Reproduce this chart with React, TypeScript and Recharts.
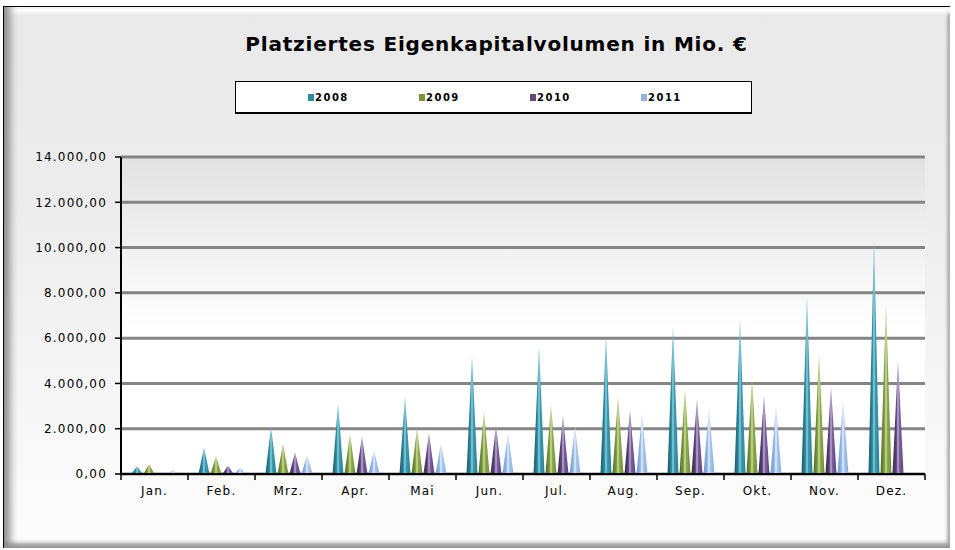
import React from 'react';
import { BarChart, Bar, XAxis, YAxis, CartesianGrid, Legend } from 'recharts';

const months = ['Jan.', 'Feb.', 'Mrz.', 'Apr.', 'Mai', 'Jun.', 'Jul.', 'Aug.', 'Sep.', 'Okt.', 'Nov.', 'Dez.'];
const v2008 = [340, 1170, 2100, 3100, 3420, 5230, 5650, 6120, 6520, 6830, 7860, 10290];
const v2009 = [440, 780, 1330, 1770, 2020, 2770, 3050, 3420, 3760, 4230, 5310, 7420];
const v2010 = [60, 370, 960, 1660, 1810, 2140, 2580, 2830, 3320, 3460, 3830, 5010];
const v2011 = [150, 290, 840, 1060, 1350, 1810, 2110, 2680, 2900, 3020, 3270, 0];
const yTicks = [0, 2000, 4000, 6000, 8000, 10000, 12000, 14000];
const seriesNames = ['2008', '2009', '2010', '2011'];
const title = 'Platziertes Eigenkapitalvolumen in Mio. €';

const data = months.map((m, i) => ({
  month: m,
  y2008: v2008[i],
  y2009: v2009[i],
  y2010: v2010[i],
  y2011: v2011[i],
}));

const series = [
  { key: 'y2008', name: seriesNames[0], legend: '#2f8aa0', stops: ['#1b5868', '#2d879c', '#8fd4e4', '#3c9bb1', '#2a7d90'] },
  { key: 'y2009', name: seriesNames[1], legend: '#77933c', stops: ['#4f6a22', '#7c9a3e', '#cfe2a2', '#8fab4f', '#6f8b35'] },
  { key: 'y2010', name: seriesNames[2], legend: '#5f497a', stops: ['#34254c', '#5c4678', '#c4b2da', '#7a62a0', '#57427a'] },
  { key: 'y2011', name: seriesNames[3], legend: '#95b3d7', stops: ['#6d97cf', '#93b6e2', '#e8f2fc', '#a8c6ec', '#86aade'] },
];

const fmt = (v: number) => {
  const s = Math.round(v).toString();
  const withSep = s.replace(/\B(?=(\d{3})+(?!\d))/g, '.');
  return withSep + ',00';
};

const Spike = (props: any) => {
  const { x, y, width, height, grad } = props;
  if (!height || height <= 0) return null;
  const inset = 0.5;
  const pts = `${x + inset},${y + height} ${x + width / 2},${y} ${x + width - inset},${y + height}`;
  return <polygon points={pts} fill={`url(#${grad})`} />;
};

const XTick = (props: any) => {
  const { x, y, payload } = props;
  const off = payload && typeof payload.offset === 'number' ? payload.offset : 33.5;
  const axisY = y - 12;
  const isLast = payload && payload.index === months.length - 1;
  return (
    <g>
      <line x1={x - off} x2={x - off} y1={axisY} y2={axisY + 6} stroke="#000" strokeWidth={1.5} />
      {isLast && <line x1={x + off} x2={x + off} y1={axisY} y2={axisY + 6} stroke="#000" strokeWidth={1.5} />}
      <text x={x} y={axisY + 21} textAnchor="middle" fontFamily="DejaVu Sans" fontSize={12} letterSpacing={1.2} fill="#000">
        {payload.value}
      </text>
    </g>
  );
};

const LegendContent = (props: any) => {
  const payload = props.payload || [];
  return (
    <div
      style={{
        width: 517,
        height: 33,
        boxSizing: 'border-box',
        background: '#fff',
        borderTop: '1px solid #000',
        borderLeft: '1px solid #000',
        borderRight: '1.5px solid #000',
        borderBottom: '2px solid #000',
        position: 'relative',
      }}
    >
      {payload.map((p: any, i: number) => (
        <div
          key={i}
          style={{
            position: 'absolute',
            left: 72 + i * 111,
            top: 10,
            display: 'flex',
            alignItems: 'center',
            fontFamily: 'DejaVu Sans',
            fontWeight: 'bold',
            fontSize: 10,
            letterSpacing: 1.5,
            color: '#000',
          }}
        >
          <span style={{ display: 'inline-block', width: 6, height: 7, background: p.color, marginRight: 1 }} />
          <span>{p.value}</span>
        </div>
      ))}
    </div>
  );
};

export default function App() {
  return (
    <div style={{ position: 'absolute', left: 0, top: 0, width: 955, height: 550, background: '#fff', overflow: 'hidden' }}>
      <div
        style={{
          position: 'absolute',
          left: 3,
          top: 6,
          width: 947,
          height: 542,
          boxSizing: 'border-box',
          borderLeft: '1px solid #000',
          borderTop: '1px solid #000',
          background: 'linear-gradient(#e9e9e9 0%, #ececec 35%, #f6f6f6 70%, #fdfdfd 100%)',
          boxShadow:
            'inset 11px 0 8px -5px #8a8a8a, inset 0 12px 4px -6px #ffffff, inset 0 -9px 4px -4px #9a9a9a, inset -6px 0 3px -3px #b0b0b0',
        }}
      />
      <div
        style={{
          position: 'absolute',
          left: 0,
          top: 32,
          width: 993,
          textAlign: 'center',
          fontFamily: 'DejaVu Sans',
          fontWeight: 'bold',
          fontSize: 20,
          letterSpacing: 0.8,
          color: '#000',
        }}
      >
        {title}
      </div>
      <div style={{ position: 'absolute', left: 0, top: 0 }}>
        <BarChart
          width={955}
          height={550}
          data={data}
          margin={{ top: 157, right: 30, bottom: 46, left: 0 }}
          barGap={0}
          barSize={12}
        >
          <defs>
            <linearGradient id="plotBg" x1="0" y1="0" x2="0" y2="1">
              <stop offset="0%" stopColor="#e2e2e2" />
              <stop offset="55%" stopColor="#ffffff" />
              <stop offset="100%" stopColor="#ffffff" />
            </linearGradient>
            {series.map((s) => (
              <linearGradient key={s.key} id={`g${s.key}`} x1="0" y1="0" x2="1" y2="0">
                <stop offset="0%" stopColor={s.stops[0]} />
                <stop offset="35%" stopColor={s.stops[1]} />
                <stop offset="50%" stopColor={s.stops[2]} />
                <stop offset="62%" stopColor={s.stops[3]} />
                <stop offset="100%" stopColor={s.stops[4]} />
              </linearGradient>
            ))}
          </defs>
          <CartesianGrid vertical={false} stroke="#858585" strokeWidth={3} fill="url(#plotBg)" fillOpacity={1} />
          <XAxis
            dataKey="month"
            tickLine={false}
            tickSize={6}
            tickMargin={6}
            axisLine={{ stroke: '#000', strokeWidth: 2 }}
            tick={<XTick />}
            interval={0}
          />
          <YAxis
            domain={[0, 14000]}
            ticks={yTicks}
            width={121}
            tickSize={6}
            tickMargin={8}
            tickFormatter={fmt}
            axisLine={{ stroke: '#000', strokeWidth: 2 }}
            tickLine={{ stroke: '#000', strokeWidth: 1.5 }}
            tick={{ fontFamily: 'DejaVu Sans', fontSize: 12, fill: '#000', letterSpacing: 1.2 }}
          />
          <YAxis
            yAxisId="right"
            orientation="right"
            width={0}
            domain={[0, 14000]}
            tick={false}
            tickLine={false}
            axisLine={{ stroke: '#858585', strokeWidth: 3 }}
          />
          <Legend
            layout="vertical"
            align="center"
            verticalAlign="middle"
            wrapperStyle={{ position: 'absolute', left: 235, top: 81, width: 517, height: 33 }}
            content={<LegendContent />}
          />
          {series.map((s) => (
            <Bar
              key={s.key}
              dataKey={s.key}
              name={s.name}
              fill={s.legend}
              isAnimationActive={false}
              shape={(p: any) => <Spike {...p} grad={`g${s.key}`} />}
            />
          ))}
        </BarChart>
      </div>
    </div>
  );
}
